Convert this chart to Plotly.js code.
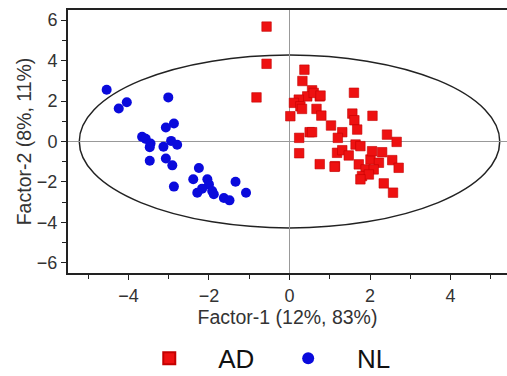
<!DOCTYPE html>
<html><head><meta charset="utf-8">
<script src="https://cdn.plot.ly/plotly-3.0.1.min.js"></script>
<style>html,body{margin:0;padding:0;background:#fff;}#chart{width:507px;height:376px;}</style>
</head><body><div id="chart"></div>
<script>
const groups = ["AD", "NL"];
const adX = [-0.57,-0.57,-0.82,0.37,0.32,0.56,0.75,0.44,0.23,0.11,0.27,0.31,0.02,0.60,0.77,0.67,0.79,1.03,0.50,0.24,0.24,0.56,0.75,1.13,1.60,2.06,1.56,1.61,1.68,1.31,1.20,2.42,2.66,1.64,1.76,1.18,1.31,1.47,1.72,2.01,2.05,2.30,2.22,2.55,2.71,1.89,2.09,1.80,1.97,1.76,2.34,2.57,1.12];
const adY = [5.68,3.84,2.18,3.55,2.99,2.53,2.23,2.23,2.07,1.91,1.74,1.61,1.25,2.40,2.27,1.61,1.28,0.79,0.46,0.18,-0.58,0.46,-1.12,-1.22,2.41,1.27,1.38,1.05,0.59,0.46,0.18,0.34,-0.02,-0.15,-0.23,-0.56,-0.43,-0.69,-1.13,-0.89,-0.48,-0.53,-1.05,-0.92,-1.30,-1.38,-1.38,-1.71,-1.63,-1.87,-2.07,-2.53,-1.25];
const nlX = [-4.54,-4.04,-4.24,-3.01,-2.87,-3.07,-3.66,-3.57,-3.45,-3.47,-2.94,-3.13,-2.79,-3.47,-3.07,-2.91,-2.87,-2.25,-2.39,-2.04,-2.00,-2.17,-2.29,-1.92,-1.88,-1.34,-1.08,-1.63,-1.49];
const nlY = [2.56,1.94,1.63,2.18,0.89,0.69,0.23,0.13,-0.10,-0.28,0.03,-0.26,-0.16,-0.95,-0.84,-1.18,-2.23,-1.31,-1.87,-1.87,-2.12,-2.33,-2.53,-2.45,-2.61,-1.99,-2.53,-2.79,-2.91];
const ellipseRx = 5.22, ellipseRy = 4.27;
const xTickVals = [-4, -2, 0, 2, 4];
const yTickVals = [-6, -4, -2, 0, 2, 4, 6];
const xTitle = "Factor-1 (12%, 83%)";
const yTitle = "Factor-2 (8%, 11%)";

const nb = "\u00a0\u00a0\u00a0\u00a0";
const traces = [
  {x: adX, y: adY, mode: "markers", type: "scatter", name: nb + groups[0] + nb,
   marker: {symbol: "square", size: 9.5, color: "#ee1111", line: {color: "#c40000", width: 0.6}}},
  {x: nlX, y: nlY, mode: "markers", type: "scatter", name: nb + groups[1],
   marker: {symbol: "circle", size: 10, color: "#0a0adc", line: {width: 0}}}
];
const ff = "Liberation Sans, Arial, sans-serif";
const layout = {
  width: 507, height: 376,
  margin: {l: 68, r: 0, t: 10, b: 103, autoexpand: false},
  paper_bgcolor: "#fff", plot_bgcolor: "#fff",
  font: {family: ff, color: "#333", size: 18},
  showlegend: true,
  legend: {orientation: "h", xref: "container", yref: "container", x: 0.538, xanchor: "center", y: 0.047, yanchor: "middle",
           font: {size: 26, color: "#111", family: ff},
           itemsizing: "constant", traceorder: "normal"},
  xaxis: {range: [-5.5, 5.4], tickvals: xTickVals, ticks: "outside", ticklen: 5, tickcolor: "#222",
          minor: {dtick: 1, ticks: "outside", ticklen: 4, tickcolor: "#222", showgrid: false},
          showgrid: false, showline: true, linecolor: "#222", linewidth: 2, mirror: true,
          zeroline: true, zerolinecolor: "#999", zerolinewidth: 1,
          tickfont: {size: 18}, title: {text: xTitle, font: {size: 19.5}, standoff: 5}},
  yaxis: {range: [-6.5, 6.5], tickvals: yTickVals, ticks: "outside", ticklen: 5, tickcolor: "#222",
          minor: {dtick: 1, ticks: "outside", ticklen: 4, tickcolor: "#222", showgrid: false},
          showgrid: false, showline: true, linecolor: "#222", linewidth: 2,
          zeroline: true, zerolinecolor: "#999", zerolinewidth: 1,
          tickfont: {size: 18}, title: {text: yTitle, font: {size: 19.5}, standoff: 0}},
  shapes: [{type: "circle", xref: "x", yref: "y", x0: -ellipseRx, x1: ellipseRx, y0: -ellipseRy, y1: ellipseRy,
            line: {color: "#222", width: 1.5}, layer: "below"}]
};
Plotly.newPlot("chart", traces, layout, {displayModeBar: false, staticPlot: true});
</script></body></html>
